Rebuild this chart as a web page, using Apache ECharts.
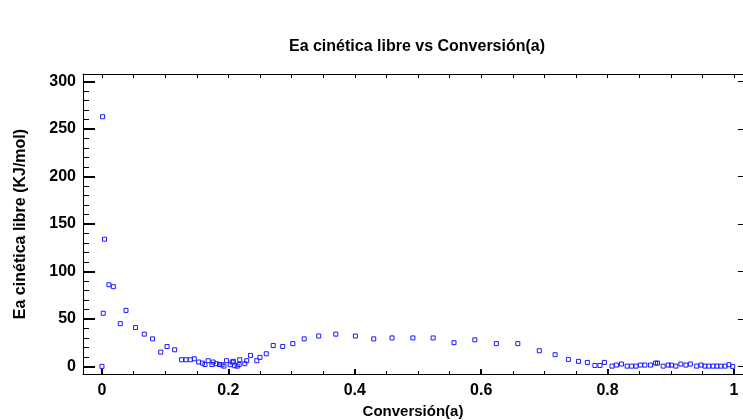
<!DOCTYPE html>
<html>
<head>
<meta charset="utf-8">
<script src="https://cdn.jsdelivr.net/npm/echarts@6/dist/echarts.min.js"></script>
<style>
  html, body { margin: 0; padding: 0; background: #fff; }
  #chart { width: 743px; height: 420px; }
</style>
</head>
<body>
<div id="chart"></div>
<script>
// Conversion (a) and free kinetic activation energy (KJ/mol)
const conversion = [
  0, 0.001, 0.002, 0.004, 0.011, 0.018, 0.029, 0.038, 0.053, 0.067,
  0.080, 0.093, 0.103, 0.115, 0.126, 0.133, 0.140, 0.146, 0.153, 0.159,
  0.163, 0.168, 0.174, 0.176, 0.181, 0.186, 0.190, 0.193, 0.197, 0.203,
  0.206, 0.208, 0.210, 0.214, 0.217, 0.218, 0.226, 0.229, 0.235, 0.245,
  0.250, 0.260, 0.271, 0.286, 0.302, 0.320, 0.343, 0.370, 0.401, 0.430,
  0.459, 0.492, 0.524, 0.557, 0.590, 0.624, 0.658, 0.692, 0.717, 0.738,
  0.754, 0.768, 0.780, 0.788, 0.795, 0.807, 0.814, 0.822, 0.831, 0.838,
  0.845, 0.852, 0.859, 0.868, 0.876, 0.879, 0.888, 0.896, 0.901, 0.908,
  0.916, 0.924, 0.931, 0.941, 0.948, 0.954, 0.960, 0.967, 0.973, 0.979,
  0.986, 0.992, 0.998
];
const eaLibre = [
  0, 263, 56, 134, 86, 84, 45, 59, 41, 34,
  29, 15, 21, 17.5, 7, 7, 7, 8, 4.6, 3.5,
  2, 6, 2, 4.6, 2.8, 2, 1.7, 0.3, 6, 1.8,
  4.6, 5.3, 0.7, 0.3, 2, 7, 2.8, 6, 11.6, 6,
  9.5, 13.3, 22, 21, 24, 29, 32, 34, 32, 29,
  30, 30, 30, 25, 28, 24, 24, 16.5, 12.3, 7.4,
  5.3, 4.2, 1, 1, 4.2, 0.3, 1.4, 2.5, 0.3, 0.3,
  0.3, 1.4, 1.4, 1.4, 3.5, 3.5, 0.3, 1.4, 1.4, 0.3,
  2.5, 1.4, 2.5, 0.3, 1.4, 0.3, 0.3, 0.3, 0.3, 0.3,
  0.3, 1.8, 0
];

// Tick positions
const xMajorTicks = [0, 0.2, 0.4, 0.6, 0.8, 1];
const xMinorTicks = [0, 0.05, 0.1, 0.15, 0.2, 0.25, 0.3, 0.35, 0.4, 0.45, 0.5,
  0.55, 0.6, 0.65, 0.7, 0.75, 0.8, 0.85, 0.9, 0.95, 1];
const yMajorTicks = [0, 50, 100, 150, 200, 250, 300];
const yMinorTicks = [0, 10, 20, 30, 40, 50, 60, 70, 80, 90, 100, 110, 120, 130, 140,
  150, 160, 170, 180, 190, 200, 210, 220, 230, 240, 250, 260, 270, 280, 290, 300];

const FONT = '"Liberation Sans", Arial, sans-serif';
const X_MIN = -0.03, X_MAX = 1.0143;
const Y_MIN = -8, Y_MAX = 308;
const ink = '#000';

const chart = echarts.init(document.getElementById('chart'), null, { renderer: 'canvas' });

function blankX(extra) {
  return Object.assign({
    type: 'value', min: X_MIN, max: X_MAX, gridIndex: 0,
    splitLine: { show: false },
    axisLabel: { show: false },
    axisLine: { show: false, onZero: false },
    axisTick: { show: false }
  }, extra);
}
function blankY(extra) {
  return Object.assign({
    type: 'value', min: Y_MIN, max: Y_MAX, gridIndex: 0,
    splitLine: { show: false },
    axisLabel: { show: false },
    axisLine: { show: false, onZero: false },
    axisTick: { show: false }
  }, extra);
}

chart.setOption({
  animation: false,
  backgroundColor: '#fff',
  title: {
    text: 'Ea cinética libre vs Conversión(a)',
    left: 412, top: 34, textAlign: 'center',
    textStyle: { fontFamily: FONT, fontWeight: 'bold', fontSize: 16, color: ink }
  },
  grid: { left: 83, top: 74, right: 0, bottom: 46, containLabel: false, outerBoundsMode: 'none' },
  xAxis: [
    blankX({
      position: 'bottom',
      name: 'Conversión(a)', nameLocation: 'middle', nameGap: 27,
      nameTextStyle: { fontFamily: FONT, fontWeight: 'bold', fontSize: 15, color: ink },
      axisLine: { show: true, onZero: false, lineStyle: { color: ink, width: 1 } },
      axisTick: { show: true, inside: true, length: 5, customValues: xMajorTicks, lineStyle: { color: ink, width: 2 } },
      axisLabel: { show: true, customValues: xMajorTicks, margin: 9,
        fontFamily: FONT, fontWeight: 'bold', fontSize: 16, color: ink }
    }),
    blankX({
      position: 'bottom',
      axisTick: { show: true, inside: true, length: 3, customValues: xMinorTicks, lineStyle: { color: ink, width: 1 } }
    }),
    blankX({
      position: 'top',
      axisLine: { show: true, onZero: false, lineStyle: { color: ink, width: 1 } },
      axisTick: { show: true, inside: true, length: 4, customValues: xMinorTicks, lineStyle: { color: ink, width: 1 } }
    })
  ],
  yAxis: [
    blankY({
      position: 'left',
      name: 'Ea cinética libre (KJ/mol)', nameLocation: 'middle', nameGap: 54, nameRotate: 90,
      nameTextStyle: { fontFamily: FONT, fontWeight: 'bold', fontSize: 16, color: ink },
      axisLine: { show: true, onZero: false, lineStyle: { color: ink, width: 1 } },
      axisTick: { show: true, inside: true, length: 12, customValues: yMajorTicks, lineStyle: { color: ink, width: 2 } },
      axisLabel: { show: true, customValues: yMajorTicks, margin: 7,
        fontFamily: FONT, fontWeight: 'bold', fontSize: 16, color: ink }
    }),
    blankY({
      position: 'left',
      axisTick: { show: true, inside: true, length: 6, customValues: yMinorTicks, lineStyle: { color: ink, width: 1 } }
    }),
    blankY({
      position: 'right',
      axisTick: { show: true, inside: true, length: 5, customValues: yMajorTicks, lineStyle: { color: ink, width: 1 } }
    })
  ],
  series: [{
    type: 'scatter',
    xAxisIndex: 0, yAxisIndex: 0,
    symbol: 'rect',
    symbolSize: 4,
    data: conversion.map((c, i) => [c, eaLibre[i]]),
    itemStyle: { color: 'transparent', borderColor: '#1a1aff', borderWidth: 1, opacity: 1 }
  }]
});
</script>
</body>
</html>
